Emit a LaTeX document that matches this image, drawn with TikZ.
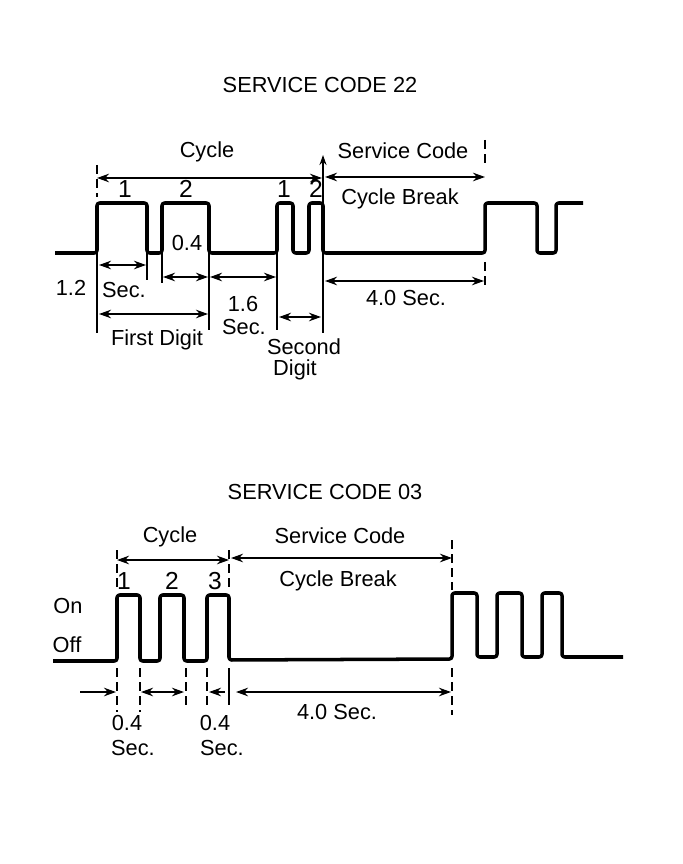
\documentclass[tikz,border=0pt]{standalone}
\usepackage{fontspec}
\setmainfont{Liberation Sans}
\usetikzlibrary{arrows.meta}
\tikzset{
  wave/.style={draw=black, line width=2pt, line join=round, rounded corners=1.5pt},  % signal trace
  dim/.style={draw=black, line width=1.4pt,
              {Stealth[length=2.4mm,width=1.7mm]}-{Stealth[length=2.4mm,width=1.7mm]}},
  dimr/.style={draw=black, line width=1.4pt, -{Stealth[length=2.4mm,width=1.7mm]}},
  ext/.style={draw=black, line width=1.6pt},                          % extension line
  extd/.style={draw=black, line width=1.3pt, dash pattern=on 5pt off 3pt},
  lbl/.style={font=\fontsize{12.4}{14}\selectfont, inner sep=1pt},
  num/.style={font=\fontsize{14}{16}\selectfont, inner sep=1pt},
}
\begin{document}
\begin{tikzpicture}[x=0.02cm, y=-0.02cm]
  \useasboundingbox (0,0) rectangle (682,864);

  % ---- service code 22
  \node[lbl] (title22) at (320,85) {SERVICE CODE 22};
  \draw[wave] (55,253) -- (97,253) -- (97,203) -- (147,203) -- (147,253) -- (162,253)
    -- (162,203) -- (209,203) -- (209,253) -- (277,253) -- (277,203) -- (293,203)
    -- (293,253) -- (309,253) -- (309,203) -- (323,203) -- (323,253) -- (485,253)
    -- (485,203) -- (537,203) -- (537,253) -- (556,253) -- (556,203) -- (583,203);
  \foreach \x/\ya/\yb in {97/253/333, 147/253/280, 162/253/283, 209/253/330, 277/253/330, 323/253/333}
    \draw[ext] (\x,\ya) -- (\x,\yb);
  \draw[ext, -{Stealth[length=2mm,width=1.4mm]}] (323,203) -- (323,155);
  \draw[extd] (97,165) -- (97,197);
  \draw[extd] (485,140) -- (485,168);
  \draw[extd] (485,262) -- (485,290);
  \foreach \n/\xa/\xb/\y in {cyc/97/322/178, svc/325/485/177, tA/99/146/265, tB/163/208/277,
                             tC/210/276/277, fd/99/208/314, sd/279/321/317, tD/325/484/281}{
    \coordinate (\n-a) at (\xa,\y);
    \coordinate (\n-b) at (\xb,\y);
    \draw[dim] (\n-a) -- (\n-b);
  }
  \node[lbl] (cyc) at (207,152) {Cycle};
  \node[lbl] (svc) at (403,151) {Service Code};
  \node[lbl] (brk) at (400,199) {Cycle Break};
  \node[num] (p1) at (125,189) {1};
  \node[num] (p2) at (186,189) {2};
  \node[num] (q1) at (284,189) {1};
  \node[num] (q2) at (316,189) {2};
  \node[lbl] (wB) at (187,243) {0.4};
  \node[lbl] (wA) at (71,288) {1.2};
  \node[lbl] (sA) at (124,290) {Sec.};
  \node[lbl] (wC) at (243,304) {1.6};
  \node[lbl] (sC) at (244,327) {Sec.};
  \node[lbl] (fd) at (157,340) {First Digit};
  \node[lbl] (sd1) at (304,347) {Second};
  \node[lbl] (sd2) at (295,370) {Digit};
  \node[lbl] (wD) at (406,298) {4.0 Sec.};

  % ---- service code 03
  \node[lbl] (title03) at (325,492) {SERVICE CODE 03};
  \draw[wave] (53,661) -- (117,661) -- (117,595) -- (140,595) -- (140,661) -- (160,661)
    -- (160,595) -- (184,595) -- (184,661) -- (207,661) -- (207,595) -- (229,595)
    -- (229,660) -- (452,659) -- (452,593) -- (477,593) -- (477,657) -- (497,657)
    -- (497,593) -- (522,593) -- (522,657) -- (542,657) -- (542,593) -- (562,593)
    -- (562,657) -- (623,657);
  \foreach \x/\ya/\yb in {117/550/590, 229/550/590, 452/540/590,
                          117/668/712, 140/668/712, 186/668/705, 207/668/708, 452/668/715}
    \draw[extd] (\x,\ya) -- (\x,\yb);
  \draw[ext] (229,668) -- (229,705);
  \foreach \n/\xa/\xb/\y in {cycB/117/229/560, svcB/231/452/558, tE/141/184/692, tF/236/451/692}{
    \coordinate (\n-a) at (\xa,\y);
    \coordinate (\n-b) at (\xb,\y);
    \draw[dim] (\n-a) -- (\n-b);
  }
  \coordinate (in1-a) at (80,692);
  \coordinate (in1-b) at (116,692);
  \draw[dimr] (in1-a) -- (in1-b);
  \coordinate (in2-a) at (225,692);
  \coordinate (in2-b) at (209,692);
  \draw[dimr] (in2-a) -- (in2-b);
  \node[lbl] (on) at (68,606) {On};
  \node[lbl] (off) at (67,645) {Off};
  \node[lbl] (cycB) at (170,537) {Cycle};
  \node[lbl] (svcB) at (340,536) {Service Code};
  \node[lbl] (brkB) at (338,581) {Cycle Break};
  \node[num] (r1) at (124,581) {1};
  \node[num] (r2) at (172,581) {2};
  \node[num] (r3) at (215,581) {3};
  \node[lbl] (wE) at (127,723) {0.4};
  \node[lbl] (sE) at (133,748) {Sec.};
  \node[lbl] (wF) at (215,723) {0.4};
  \node[lbl] (sF) at (222,748) {Sec.};
  \node[lbl] (wG) at (337,712) {4.0 Sec.};
\end{tikzpicture}
\end{document}
